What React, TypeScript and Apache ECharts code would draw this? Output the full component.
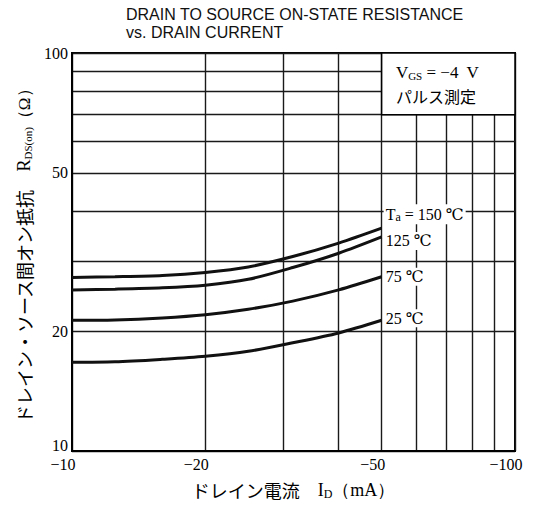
import React, { useEffect, useRef } from 'react';
import * as echarts from 'echarts';

// |I_D| in mA (drawn as negative currents via label formatter)
const drainCurrent = [10, 12.5, 16, 20, 25, 31.5, 40, 50];
const rds150 = [27.3, 27.4, 27.6, 28.1, 29.0, 30.8, 33.3, 36.3];
const rds125 = [25.4, 25.5, 25.7, 26.1, 27.0, 28.9, 31.4, 34.5];
const rds75 = [21.3, 21.35, 21.6, 22.0, 22.7, 23.8, 25.4, 27.4];
const rds25 = [16.7, 16.75, 17.0, 17.3, 17.8, 18.7, 19.8, 21.3];

const xGridValues = [10, 20, 30, 40, 50, 60, 70, 80, 90, 100];
const xLabelValues = [10, 20, 50, 100];
const yGridValues = [10, 20, 30, 40, 50, 60, 70, 80, 90, 100];
const yLabelValues = [10, 20, 50, 100];

const curveLabels = ['{t|T}{s|a}{t| = 150 ℃}', '{t|125 ℃}', '{t|75 ℃}', '{t|25 ℃}'];
const curveData = [rds150, rds125, rds75, rds25];
const labelOffsets = [-14, 4, 0, -2];

const titleLines = ['DRAIN TO SOURCE ON-STATE RESISTANCE', 'vs. DRAIN CURRENT'];
const conditionText = ['V', 'GS', ' = −4  V', 'パルス測定'];

const SERIF = '"Liberation Serif", "DejaVu Serif", serif';
const JP = '"Noto Sans CJK JP", sans-serif';

export default function App() {
  const ref = useRef<HTMLDivElement>(null);
  useEffect(() => {
    document.body.style.margin = '0';
    const chart = echarts.init(ref.current!, null, { renderer: 'svg' });
    const richCommon = {
      t: { fontFamily: SERIF, fontSize: 16, color: '#000' },
      s: { fontFamily: SERIF, fontSize: 12, color: '#000', padding: [6, 0, 0, 0] },
    };
    const series: any[] = curveData.map((vals, i) => ({
      type: 'line',
      name: curveLabels[i],
      smooth: 0.3,
      symbol: 'none',
      lineStyle: { color: '#111', width: 3 },
      data: drainCurrent.map((x, k) => [x, vals[k]]),
      endLabel: {
        show: true,
        formatter: () => curveLabels[i],
        distance: 2,
        offset: [0, labelOffsets[i]],
        backgroundColor: '#fff',
        padding: [1, 2, 1, 2],
        rich: richCommon,
      },
      z: 3,
    }));
    series[0].markArea = {
      silent: true,
      itemStyle: { color: '#fff', borderColor: '#000', borderWidth: 1.5, opacity: 1 },
      label: {
        show: true,
        position: [15, 8],
        formatter: `{v|${conditionText[0]}}{s|${conditionText[1]}}{v|${conditionText[2]}}\n{j|${conditionText[3]}}`,
        rich: {
          v: { fontFamily: SERIF, fontSize: 17, color: '#000', lineHeight: 24 },
          s: { fontFamily: SERIF, fontSize: 11, color: '#000', padding: [7, 0, 0, 0], lineHeight: 24 },
          j: { fontFamily: JP, fontSize: 16, color: '#000', lineHeight: 24 },
        },
      },
      data: [[{ coord: [50, 100] }, { coord: [100, 70] }]],
    };
    chart.setOption({
      animation: false,
      backgroundColor: '#fff',
      graphic: titleLines.map((t, i) => ({
        type: 'text',
        left: 126,
        top: 6 + i * 18,
        style: { text: t, font: '16px "Liberation Sans", Arial, sans-serif', fill: '#111' },
      })),
      grid: { left: 72, top: 53, right: 18, bottom: 58, show: true, borderColor: '#000', borderWidth: 2 },
      xAxis: {
        type: 'log',
        logBase: 10,
        min: 10,
        max: 100,
        name: 'ドレイン電流　{i|I}{d|D}{p|（mA）}',
        nameLocation: 'middle',
        nameGap: 29,
        nameTextStyle: {
          fontFamily: JP,
          fontSize: 18,
          color: '#000',
          rich: {
            i: { fontFamily: SERIF, fontSize: 18, color: '#000' },
            d: { fontFamily: SERIF, fontSize: 12, color: '#000', padding: [8, 0, 0, 0] },
            p: { fontFamily: SERIF, fontSize: 18, color: '#000' },
          },
        },
        axisLine: { show: true, lineStyle: { color: '#000', width: 2 } },
        axisTick: { show: false, customValues: xGridValues },
        axisLabel: {
          customValues: xLabelValues,
          formatter: (v: number) => '−' + v,
          fontFamily: SERIF,
          fontSize: 16,
          color: '#000',
          margin: 5,
          padding: [0, 18, 0, 0],
        },
        splitLine: { show: true, lineStyle: { color: '#1a1a1a', width: 1.4 } },
      },
      yAxis: {
        type: 'log',
        logBase: 10,
        min: 10,
        max: 100,
        name: 'ドレイン・ソース間オン抵抗　{r|R}{d|DS(on)}{p|（Ω）}',
        nameLocation: 'middle',
        nameRotate: 90,
        nameGap: 39,
        nameTextStyle: {
          fontFamily: JP,
          fontSize: 18,
          color: '#000',
          rich: {
            r: { fontFamily: SERIF, fontSize: 18, color: '#000' },
            d: { fontFamily: SERIF, fontSize: 11, color: '#000', padding: [7, 0, 0, 0] },
            p: { fontFamily: SERIF, fontSize: 17, color: '#000' },
          },
        },
        axisLine: { show: true, lineStyle: { color: '#000', width: 2 } },
        axisTick: { show: false, customValues: yGridValues },
        axisLabel: {
          customValues: yLabelValues,
          formatter: (v: number) => (v === 10 ? '{b|10}' : String(v)),
          fontFamily: SERIF,
          fontSize: 16,
          color: '#000',
          margin: 4,
          rich: { b: { fontFamily: SERIF, fontSize: 16, color: '#000', padding: [0, 0, 12, 0] } },
        },
        splitLine: { show: true, lineStyle: { color: '#1a1a1a', width: 1.4 } },
      },
      series,
    });
    return () => chart.dispose();
  }, []);
  return <div ref={ref} style={{ position: 'fixed', left: 0, top: 0, width: 533, height: 509 }} />;
}
